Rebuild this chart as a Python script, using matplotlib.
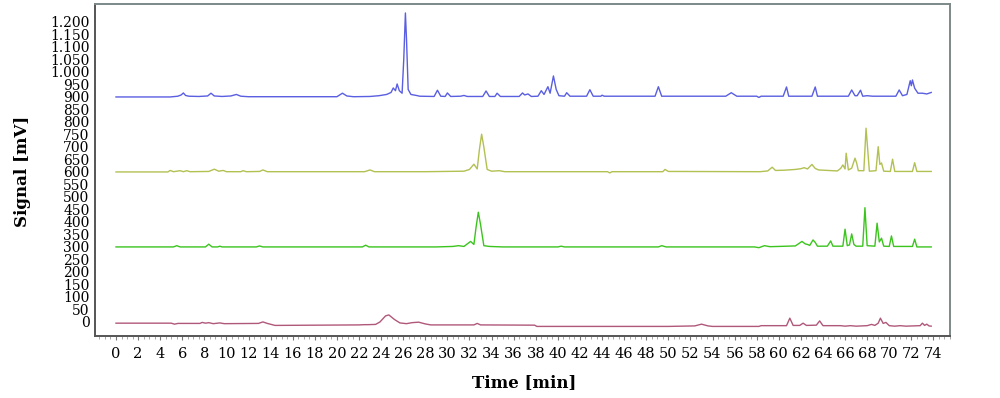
import matplotlib
matplotlib.use("Agg")
import matplotlib.pyplot as plt
from matplotlib.ticker import FuncFormatter, MultipleLocator

# ---- data (time [min], signal [mV]) ----
blue_t = [0, 4.9, 5.6, 5.9, 6.1, 6.3, 6.6, 7.5, 8.3, 8.6, 8.9, 9.6, 10.4, 10.9, 11.3, 12,
          20.0, 20.5, 20.9, 21.5, 23.0, 23.8, 24.5, 24.9, 25.1, 25.3, 25.45, 25.65, 25.9,
          26.05, 26.2, 26.3, 26.45, 26.7, 27.2, 27.5, 28.8, 29.1, 29.4, 29.8, 30.0, 30.3,
          31.2, 31.5, 31.8, 33.2, 33.5, 33.8, 34.3, 34.5, 34.8, 36.5, 36.8, 37.0, 37.3, 37.6,
          38.2, 38.5, 38.75, 39.1, 39.3, 39.6, 39.85, 40.1, 40.6, 40.8, 41.1, 42.6, 42.9,
          43.2, 43.9, 44.0, 44.2, 48.8, 49.1, 49.4, 55.2, 55.7, 56.2, 58.0, 58.2, 58.4,
          60.4, 60.7, 60.9, 63.0, 63.3, 63.5, 66.3, 66.6, 66.9, 67.1, 67.4, 67.6, 68.0,
          68.5, 70.6, 70.9, 71.2, 71.6, 71.9, 72.0, 72.1, 72.3, 72.6, 73.0, 73.4, 73.8]
blue_v = [900, 900, 903, 908, 916, 906, 903, 902, 904, 915, 904, 902, 904, 910, 903, 901,
          901, 915, 904, 901, 902, 905, 910, 918, 936, 925, 952, 925, 915,
          1050, 1236, 1130, 930, 910, 906, 903, 902, 927, 903, 902, 916, 902,
          903, 906, 902, 902, 924, 902, 902, 915, 902, 902, 916, 908, 912, 902,
          903, 925, 910, 941, 915, 984, 930, 905, 903, 917, 903, 903, 929,
          903, 903, 907, 903, 903, 941, 903, 903, 917, 903, 903, 898, 903,
          903, 940, 903, 903, 940, 903, 903, 928, 905, 905, 927, 903, 905,
          903, 903, 928, 905, 910, 965, 945, 968, 935, 915, 915, 912, 918]

olive_t = [0, 4.7, 4.9, 5.2, 5.8, 6.1, 6.4, 6.7, 8.4, 8.9, 9.3, 9.7, 10.0, 11.3, 11.5, 11.8,
           13.0, 13.3, 13.7, 22.5, 23.0, 23.4, 28.0, 31.5, 32.0, 32.4, 32.7, 32.9, 33.1,
           33.3, 33.6, 34.0, 34.7, 35.2, 44.5, 44.7, 44.9, 49.5, 49.7, 50.0, 58.3, 59.0,
           59.4, 59.7, 60.5, 61.5, 62.0, 62.3, 62.6, 63.0, 63.3, 63.6, 65.3, 65.6, 65.8,
           66.0, 66.1, 66.3, 66.6, 66.9, 67.05, 67.2, 67.7, 67.9, 68.05, 68.2, 68.8, 69.0,
           69.15, 69.3, 69.5, 70.1, 70.3, 70.5, 72.1, 72.3, 72.5, 73.8]
olive_v = [600, 600, 606, 601, 605, 601, 605, 601, 602, 611, 603, 606, 601, 601, 605, 601,
           602, 608, 601, 601, 608, 601, 601, 603, 610, 631, 612, 690, 751,
           700, 610, 603, 605, 601, 601, 596, 601, 601, 610, 602, 601, 604,
           619, 606, 607, 610, 613, 617, 612, 630, 614, 608, 604, 614, 628,
           612, 675, 608, 615, 655, 636, 605, 605, 775, 690, 603, 605, 701,
           630, 636, 603, 602, 651, 602, 602, 637, 602, 602]

green_t = [0, 5.2, 5.5, 5.8, 8.1, 8.4, 8.7, 9.2, 9.4, 9.6, 12.7, 13.0, 13.3, 22.3, 22.6, 22.9,
           29.0, 30.5, 31.0, 31.5, 32.1, 32.4, 32.6, 32.8, 33.0, 33.3, 33.8, 35.0, 40.0,
           40.3, 40.6, 49.1, 49.4, 49.8, 57.8, 58.2, 58.7, 59.2, 60.0, 61.5, 62.1, 62.4,
           62.6, 62.8, 63.1, 63.3, 63.5, 64.4, 64.7, 64.9, 65.8, 66.0, 66.2, 66.4, 66.6,
           66.8, 67.0, 67.6, 67.8, 68.0, 68.7, 68.9, 69.1, 69.3, 69.5, 70.0, 70.2, 70.4,
           72.1, 72.3, 72.5, 73.8]
green_v = [300, 300, 305, 300, 300, 311, 300, 300, 303, 300, 300, 304, 300, 300, 307, 300,
           300, 302, 305, 302, 322, 310, 380, 439, 390, 305, 302, 300, 300,
           303, 300, 300, 305, 300, 300, 297, 305, 301, 302, 304, 322, 312,
           310, 306, 328, 318, 303, 303, 324, 303, 303, 371, 305, 308, 352,
           310, 303, 303, 457, 305, 303, 395, 320, 335, 303, 302, 344, 302,
           302, 331, 300, 300]

maroon_t = [0, 5.0, 5.3, 5.6, 7.6, 7.8, 8.1, 8.4, 8.8, 9.4, 9.8, 12.9, 13.3, 13.7, 14.4,
            22.0, 22.5, 22.8, 23.5, 23.9, 24.4, 24.7, 25.2, 25.7, 26.3, 26.8, 27.4, 28.0,
            28.5, 32.4, 32.7, 33.0, 37.9, 38.1, 46.0, 50.0, 52.4, 53.0, 53.6, 54.0, 58.2,
            58.4, 60.7, 61.0, 61.3, 61.9, 62.2, 62.5, 63.4, 63.7, 64.0, 65.6, 66.0, 66.5,
            67.0, 68.0, 68.4, 68.7, 69.0, 69.2, 69.45, 69.7, 70.0, 70.5, 71.0, 71.5, 72.8,
            73.0, 73.2, 73.4, 73.6, 73.8]
maroon_v = [-5, -5, -9, -6, -6, -2, -5, -3, -7, -4, -7, -6, 0, -6, -14,
            -12, -11, -11, -10, 0, 24, 28, 10, -4, -7, -3, -1, -8,
            -12, -12, -6, -12, -13, -18, -18, -18, -16, -9, -16, -18, -18,
            -15, -15, 15, -14, -14, -5, -14, -13, 4, -15, -15, -17, -15,
            -17, -15, -10, -14, -5, 15, -6, -2, -15, -17, -15, -17, -15,
            -5, -14, -9, -16, -17]

y_ticks = list(range(0, 1201, 50))
x_ticks = list(range(0, 75, 2))

# ---- figure ----
fig = plt.figure(figsize=(10, 3.98), dpi=100)
ax = fig.add_axes([0.095, 0.156, 0.855, 0.834])

ax.plot(blue_t, blue_v, color="#5a5ee0", lw=1.0)
ax.plot(olive_t, olive_v, color="#b3c052", lw=1.0)
ax.plot(green_t, green_v, color="#3cc41e", lw=1.0)
ax.plot(maroon_t, maroon_v, color="#b0587a", lw=1.0)

ax.set_xlim(-1.9, 75.5)
ax.set_ylim(-56, 1272)

font = "DejaVu Serif"
ax.set_yticks(y_ticks)
ax.yaxis.set_major_formatter(FuncFormatter(lambda v, p: f"{int(v):,}".replace(",", ".")))
ax.set_xticks(x_ticks)
ax.xaxis.set_minor_locator(MultipleLocator(0.5))
ax.tick_params(axis="y", length=0, pad=4, labelsize=10)
ax.tick_params(axis="x", which="major", length=3, pad=5, labelsize=10.5, color="#777")
ax.tick_params(axis="x", which="minor", length=2, color="#999")
for lab in ax.get_xticklabels() + ax.get_yticklabels():
    lab.set_fontfamily(font)

for s in ("left", "bottom"):
    ax.spines[s].set_color("#555555")
    ax.spines[s].set_linewidth(1.4)
for s in ("top", "right"):
    ax.spines[s].set_color("#7d8888")
    ax.spines[s].set_linewidth(1.4)

fig.text(0.023, 0.57, "Signal [mV]", rotation=90, ha="center", va="center",
         fontsize=12, fontweight="bold", family=font)
fig.text(0.524, 0.038, "Time [min]", ha="center", va="center",
         fontsize=12, fontweight="bold", family=font)

fig.savefig("out.png", dpi=100)
